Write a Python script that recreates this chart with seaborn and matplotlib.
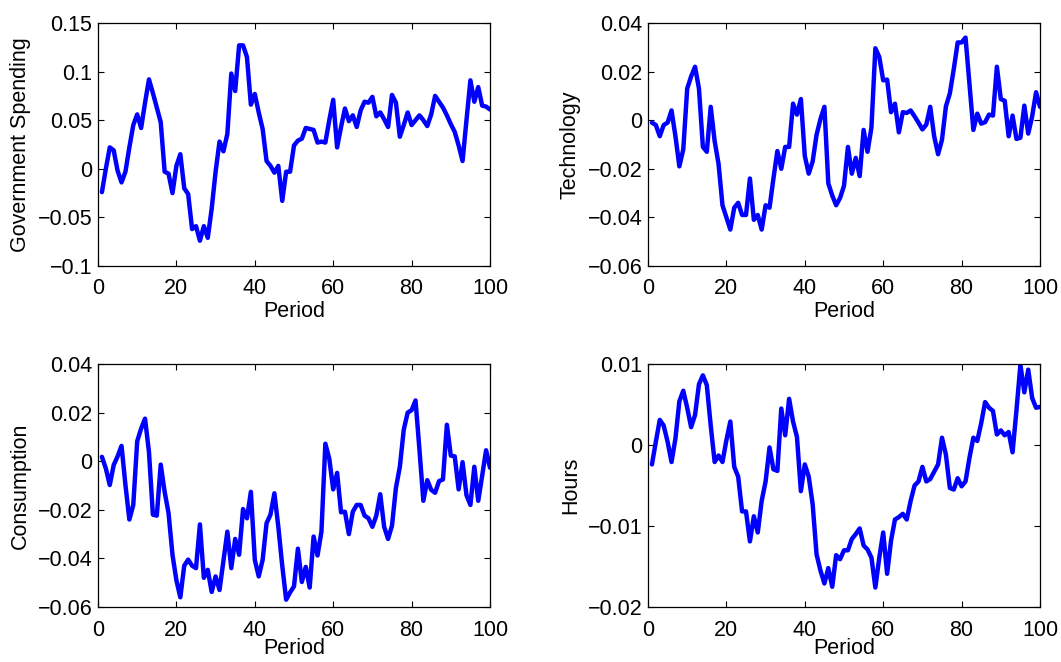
import numpy as np
import pandas as pd
import matplotlib
matplotlib.use("Agg")
import matplotlib.pyplot as plt
import seaborn as sns

periods = list(range(1, 101))

gov_spending = [
    -0.024, 0.000, 0.022, 0.019, -0.002, -0.014, -0.003, 0.022, 0.045, 0.056,
    0.042, 0.068, 0.092, 0.078, 0.063, 0.048, -0.003, -0.005, -0.025, 0.003,
    0.015, -0.020, -0.026, -0.062, -0.059, -0.074, -0.059, -0.071, -0.041, -0.003,
    0.028, 0.018, 0.036, 0.098, 0.080, 0.127, 0.127, 0.115, 0.066, 0.077,
    0.058, 0.041, 0.008, 0.003, -0.004, 0.003, -0.033, -0.003, -0.003, 0.024,
    0.029, 0.031, 0.042, 0.041, 0.040, 0.027, 0.028, 0.027, 0.050, 0.071,
    0.022, 0.043, 0.062, 0.049, 0.055, 0.043, 0.060, 0.069, 0.068, 0.074,
    0.054, 0.058, 0.051, 0.043, 0.076, 0.068, 0.033, 0.045, 0.058, 0.045,
    0.050, 0.055, 0.050, 0.044, 0.056, 0.075, 0.069, 0.063, 0.055, 0.046,
    0.038, 0.024, 0.008, 0.050, 0.091, 0.069, 0.084, 0.065, 0.064, 0.061,
]

technology = [
    -0.001, -0.002, -0.0066, -0.002, -0.001, 0.004, -0.0066, -0.019, -0.012, 0.013,
    0.018, 0.022, 0.013, -0.011, -0.013, 0.0055, -0.0086, -0.018, -0.035, -0.040,
    -0.045, -0.036, -0.034, -0.039, -0.039, -0.024, -0.041, -0.039, -0.045, -0.035,
    -0.036, -0.024, -0.0127, -0.020, -0.011, -0.011, 0.0068, 0.0023, 0.0087, -0.0147,
    -0.022, -0.017, -0.006, 0.0005, 0.0055, -0.026, -0.031, -0.035, -0.032, -0.027,
    -0.011, -0.022, -0.0155, -0.023, -0.004, -0.013, -0.003, 0.0296, 0.026, 0.0164,
    0.0167, 0.0033, 0.0068, -0.005, 0.0033, 0.003, 0.004, 0.0016, -0.001, -0.0038,
    -0.0018, 0.0055, -0.0066, -0.014, -0.008, 0.0057, 0.011, 0.021, 0.032, 0.032,
    0.034, 0.015, -0.004, 0.0027, -0.0014, -0.0008, 0.0023, 0.0019, 0.022, 0.0087,
    0.008, -0.0066, 0.0019, -0.0077, -0.0072, 0.006, -0.0055, 0.0016, 0.0115, 0.0055,
]

consumption = [
    0.0018, -0.003, -0.0098, -0.0016, 0.002, 0.0063, -0.0098, -0.024, -0.018, 0.0082,
    0.0134, 0.0175, 0.0038, -0.022, -0.0224, -0.0014, -0.0126, -0.0214, -0.0385, -0.049,
    -0.056, -0.043, -0.0405, -0.043, -0.044, -0.026, -0.048, -0.0447, -0.0538, -0.0474,
    -0.053, -0.041, -0.029, -0.044, -0.032, -0.0385, -0.0197, -0.0235, -0.0126, -0.0406,
    -0.0474, -0.0406, -0.0255, -0.022, -0.0132, -0.027, -0.043, -0.057, -0.054, -0.0515,
    -0.036, -0.0497, -0.0435, -0.052, -0.031, -0.0388, -0.029, 0.0072, 0.001, -0.0116,
    -0.0048, -0.021, -0.0208, -0.030, -0.0208, -0.018, -0.018, -0.0224, -0.0235, -0.027,
    -0.0224, -0.0136, -0.027, -0.032, -0.0265, -0.011, -0.0023, 0.013, 0.020, 0.021,
    0.025, 0.0048, -0.0163, -0.0078, -0.0118, -0.013, -0.0082, -0.0075, 0.015, 0.0023,
    0.002, -0.0116, -0.0004, -0.014, -0.018, -0.0023, -0.0163, -0.006, 0.0045, -0.0027,
]

hours = [
    -0.0024, 0.0004, 0.0031, 0.0024, 0.0004, -0.0021, 0.0008, 0.0054, 0.0067, 0.0046,
    0.0022, 0.0037, 0.0075, 0.0086, 0.0074, 0.0024, -0.0021, -0.0013, -0.0021, 0.0006,
    0.0029, -0.0027, -0.0039, -0.0082, -0.0082, -0.0119, -0.0088, -0.0108, -0.0069, -0.0045,
    -0.0003, -0.003, -0.0032, 0.0045, 0.0012, 0.0057, 0.0029, 0.001, -0.0057, -0.0024,
    -0.0039, -0.0073, -0.0135, -0.0155, -0.0171, -0.0152, -0.0175, -0.0136, -0.0141, -0.013,
    -0.013, -0.0116, -0.011, -0.0103, -0.0124, -0.0129, -0.0139, -0.0176, -0.0139, -0.0108,
    -0.0159, -0.0118, -0.0092, -0.0089, -0.0085, -0.0092, -0.0069, -0.005, -0.0045, -0.0027,
    -0.0045, -0.0042, -0.0033, -0.0024, 0.0009, -0.0012, -0.0053, -0.0055, -0.0041, -0.0051,
    -0.0045, -0.0016, 0.0009, 0.0005, 0.0027, 0.0053, 0.0046, 0.0042, 0.0013, 0.0018,
    0.0012, 0.0016, -0.0009, 0.0043, 0.0099, 0.0065, 0.0093, 0.0058, 0.0046, 0.0047,
]

x_ticks = [0, 20, 40, 60, 80, 100]
x_tick_labels = ["0", "20", "40", "60", "80", "100"]

gov_yticks = [-0.1, -0.05, 0, 0.05, 0.1, 0.15]
gov_ylabels = ["\u22120.1", "\u22120.05", "0", "0.05", "0.1", "0.15"]
tech_yticks = [-0.06, -0.04, -0.02, 0, 0.02, 0.04]
tech_ylabels = ["\u22120.06", "\u22120.04", "\u22120.02", "0", "0.02", "0.04"]
cons_yticks = [-0.06, -0.04, -0.02, 0, 0.02, 0.04]
cons_ylabels = ["\u22120.06", "\u22120.04", "\u22120.02", "0", "0.02", "0.04"]
hours_yticks = [-0.02, -0.01, 0, 0.01]
hours_ylabels = ["\u22120.02", "\u22120.01", "0", "0.01"]

panel_titles = ["Government Spending", "Technology", "Consumption", "Hours"]
x_label = "Period"

sns.set_theme(style="ticks")
plt.rcParams["font.family"] = ["Liberation Sans", "DejaVu Sans"]

fig = plt.figure(figsize=(10.61, 6.62), dpi=100)

W, H = 1061.0, 662.0
boxes = [
    (98, 23, 490, 266),
    (648, 23, 1040, 266),
    (98, 364, 490, 607),
    (648, 364, 1040, 607),
]
series = [gov_spending, technology, consumption, hours]
yticks = [gov_yticks, tech_yticks, cons_yticks, hours_yticks]
ylabels = [gov_ylabels, tech_ylabels, cons_ylabels, hours_ylabels]
label_pads = [1, 1, -2, -2]

FS = 15.5
for (l, t, r, b), vals, yt, yl, name, lp in zip(boxes, series, yticks, ylabels,
                                                 panel_titles, label_pads):
    ax = fig.add_axes([l / W, 1 - b / H, (r - l) / W, (b - t) / H])
    df = pd.DataFrame({"Period": periods, "Value": vals})
    sns.lineplot(data=df, x="Period", y="Value", ax=ax, color="#0000FF", linewidth=3.2)
    ax.set_xlim(0, 100)
    ax.set_ylim(yt[0], yt[-1])
    ax.set_xticks(x_ticks)
    ax.set_xticklabels(x_tick_labels)
    ax.set_yticks(yt)
    ax.set_yticklabels(yl)
    ax.tick_params(direction="in", length=4, width=0.8, top=True, right=True,
                   labelsize=FS, colors="black")
    ax.tick_params(axis="x", pad=9)
    ax.tick_params(axis="y", pad=4)
    for sp in ax.spines.values():
        sp.set_visible(True)
        sp.set_color("black")
        sp.set_linewidth(0.9)
    ax.set_xlabel(x_label, fontsize=FS, color="black", labelpad=lp)
    ax.set_ylabel(name, fontsize=FS, color="black")
    ax.yaxis.set_label_coords(-0.171, 0.5)

fig.savefig("out.png", dpi=100)
